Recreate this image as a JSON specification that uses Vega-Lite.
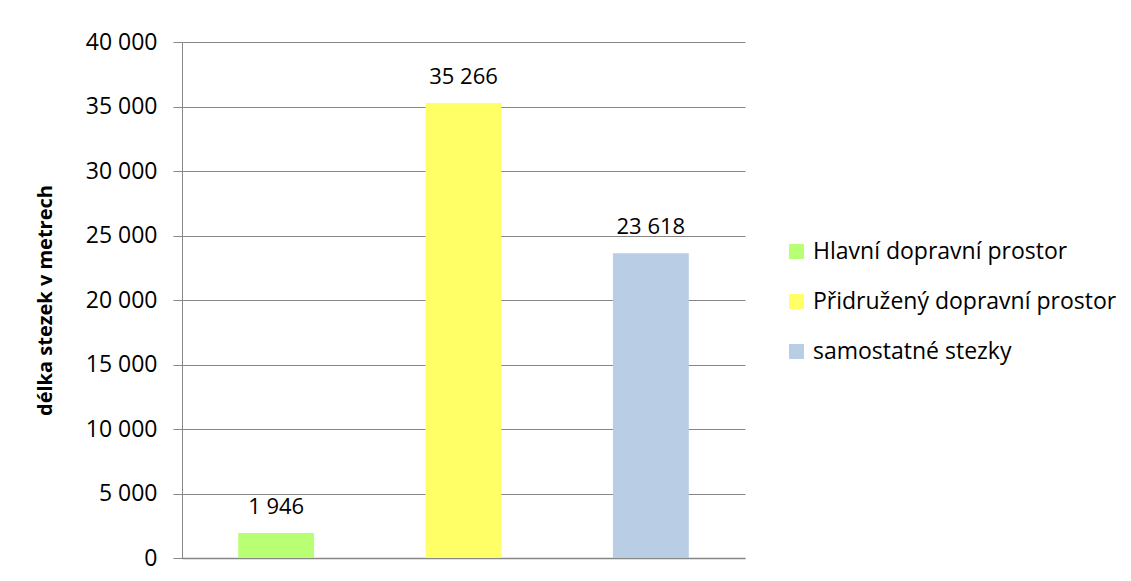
{
  "$schema": "https://vega.github.io/schema/vega-lite/v6.json",
  "width": 563,
  "height": 516,
  "autosize": {"type": "none"},
  "padding": {"left": 182, "top": 42, "right": 386, "bottom": 23},
  "background": "white",
  "config": {
    "locale": {"number": {"decimal": ",", "thousands": " ", "grouping": [3], "currency": ["", " Kč"]}},
    "font": "Open Sans",
    "view": {"stroke": null}
  },
  "data": {
    "values": [
      {"kategorie": "Hlavní dopravní prostor", "delka": 1946},
      {"kategorie": "Přidružený dopravní prostor", "delka": 35266},
      {"kategorie": "samostatné stezky", "delka": 23618}
    ]
  },
  "encoding": {
    "x": {
      "field": "kategorie", "type": "nominal",
      "sort": ["Hlavní dopravní prostor", "Přidružený dopravní prostor", "samostatné stezky"],
      "scale": {"paddingInner": 0.595, "paddingOuter": 0.3},
      "axis": {"labels": false, "ticks": false, "title": null, "domainColor": "#868686", "domainWidth": 1.5}
    },
    "y": {
      "field": "delka", "type": "quantitative",
      "scale": {"domain": [0, 40000], "nice": false},
      "axis": {
        "values": [0, 5000, 10000, 15000, 20000, 25000, 30000, 35000, 40000],
        "format": ",d",
        "title": "délka stezek v metrech",
        "titleFontSize": 20, "titleFontWeight": "bold", "titleColor": "black",
        "titlePadding": 30,
        "labelFontSize": 23, "labelColor": "black", "labelPadding": 16,
        "tickSize": 9, "tickColor": "#868686",
        "gridColor": "#868686", "domainColor": "#868686"
      }
    }
  },
  "layer": [
    {
      "mark": {"type": "bar"},
      "encoding": {
        "color": {
          "field": "kategorie", "type": "nominal",
          "sort": ["Hlavní dopravní prostor", "Přidružený dopravní prostor", "samostatné stezky"],
          "scale": {"range": ["#B9FF73", "#FFFF66", "#B9CDE5"]},
          "legend": {
            "title": null, "orient": "none", "legendX": 603, "legendY": 198,
            "symbolType": "square", "symbolSize": 225, "symbolStrokeWidth": 0,
            "labelFontSize": 23, "labelLimit": 500, "labelColor": "black", "rowPadding": 26, "labelOffset": 5
          }
        }
      }
    },
    {
      "mark": {"type": "text", "baseline": "alphabetic", "dy": -19, "fontSize": 22, "color": "black"},
      "encoding": {"text": {"field": "delka", "type": "quantitative", "format": ",d"}}
    }
  ]
}
